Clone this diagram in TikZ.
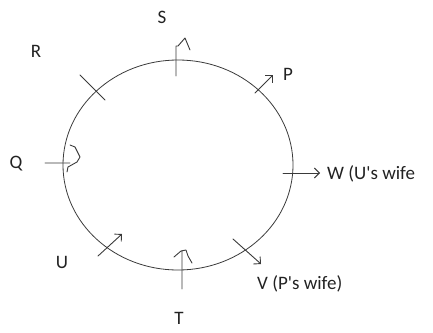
\documentclass[tikz,border=0pt]{standalone}
\usepackage{fontspec}
\setmainfont{Carlito}
\usepackage{tikz}
\usetikzlibrary{arrows.meta}
\definecolor{sketchgray}{HTML}{3a3a3a}
\definecolor{labelgray}{HTML}{222222}
\tikzset{
  seatmark/.style={draw=sketchgray,line width=0.9pt,line cap=round,line join=round},
  seatarrow/.style={seatmark,-{Straight Barb[length=5pt,width=10pt]}},
  seatname/.style={text=labelgray,font=\fontsize{19}{23}\selectfont,inner sep=0pt}
}

\begin{document}
\begin{tikzpicture}[x=1pt,y=-1pt]
  \useasboundingbox (0,0) rectangle (433,332);
  \draw[sketchgray,line width=0.8pt] (178,165) ellipse[x radius=115,y radius=105];
  \coordinate (s1) at (176,76);
  \coordinate (s2) at (176,46);
  \coordinate (p1) at (255,93);
  \coordinate (p2) at (273,75);
  \coordinate (r1) at (80,75);
  \coordinate (r2) at (105,100);
  \coordinate (q1) at (45,163);
  \coordinate (q2) at (70,163);
  \coordinate (w1) at (283,173);
  \coordinate (w2) at (320,173);
  \coordinate (v1) at (233,239);
  \coordinate (v2) at (261,264);
  \coordinate (t1) at (182,289);
  \coordinate (t2) at (182,251);
  \coordinate (u1) at (98,256);
  \coordinate (u2) at (122,234);
  \draw[seatmark] (s1) -- (s2) -- (178,46) -- (185,38) -- (190,50);
  \draw[seatarrow] (p1) -- (p2);
  \draw[seatmark] (r1) -- (r2);
  \draw[seatmark] (q1) -- (q2) (70,145) -- (75,147) -- (80,157) -- (77,162) -- (68,167) -- (67,172);
  \draw[seatarrow] (w1) -- (w2);
  \draw[seatarrow] (v1) -- (v2);
  \draw[seatmark] (t1) -- (t2) (174,257) -- (181,251) -- (186,250) -- (188,256) -- (192,263);
  \draw[seatarrow] (u1) -- (u2);
  \node[seatname] (S) at (162,17) {S};
  \node[seatname] (P) at (288,74) {P};
  \node[seatname] (R) at (36,51) {R};
  \node[seatname] (Q) at (16,164) {Q};
  \node[seatname,anchor=west] (W) at (327,174) {W (U\textquotesingle s wife};
  \node[seatname,anchor=west] (V) at (257,284) {V (P\textquotesingle s wife)};
  \node[seatname] (U) at (62,262) {U};
  \node[seatname] (T) at (179,318) {T};
\end{tikzpicture}
\end{document}
